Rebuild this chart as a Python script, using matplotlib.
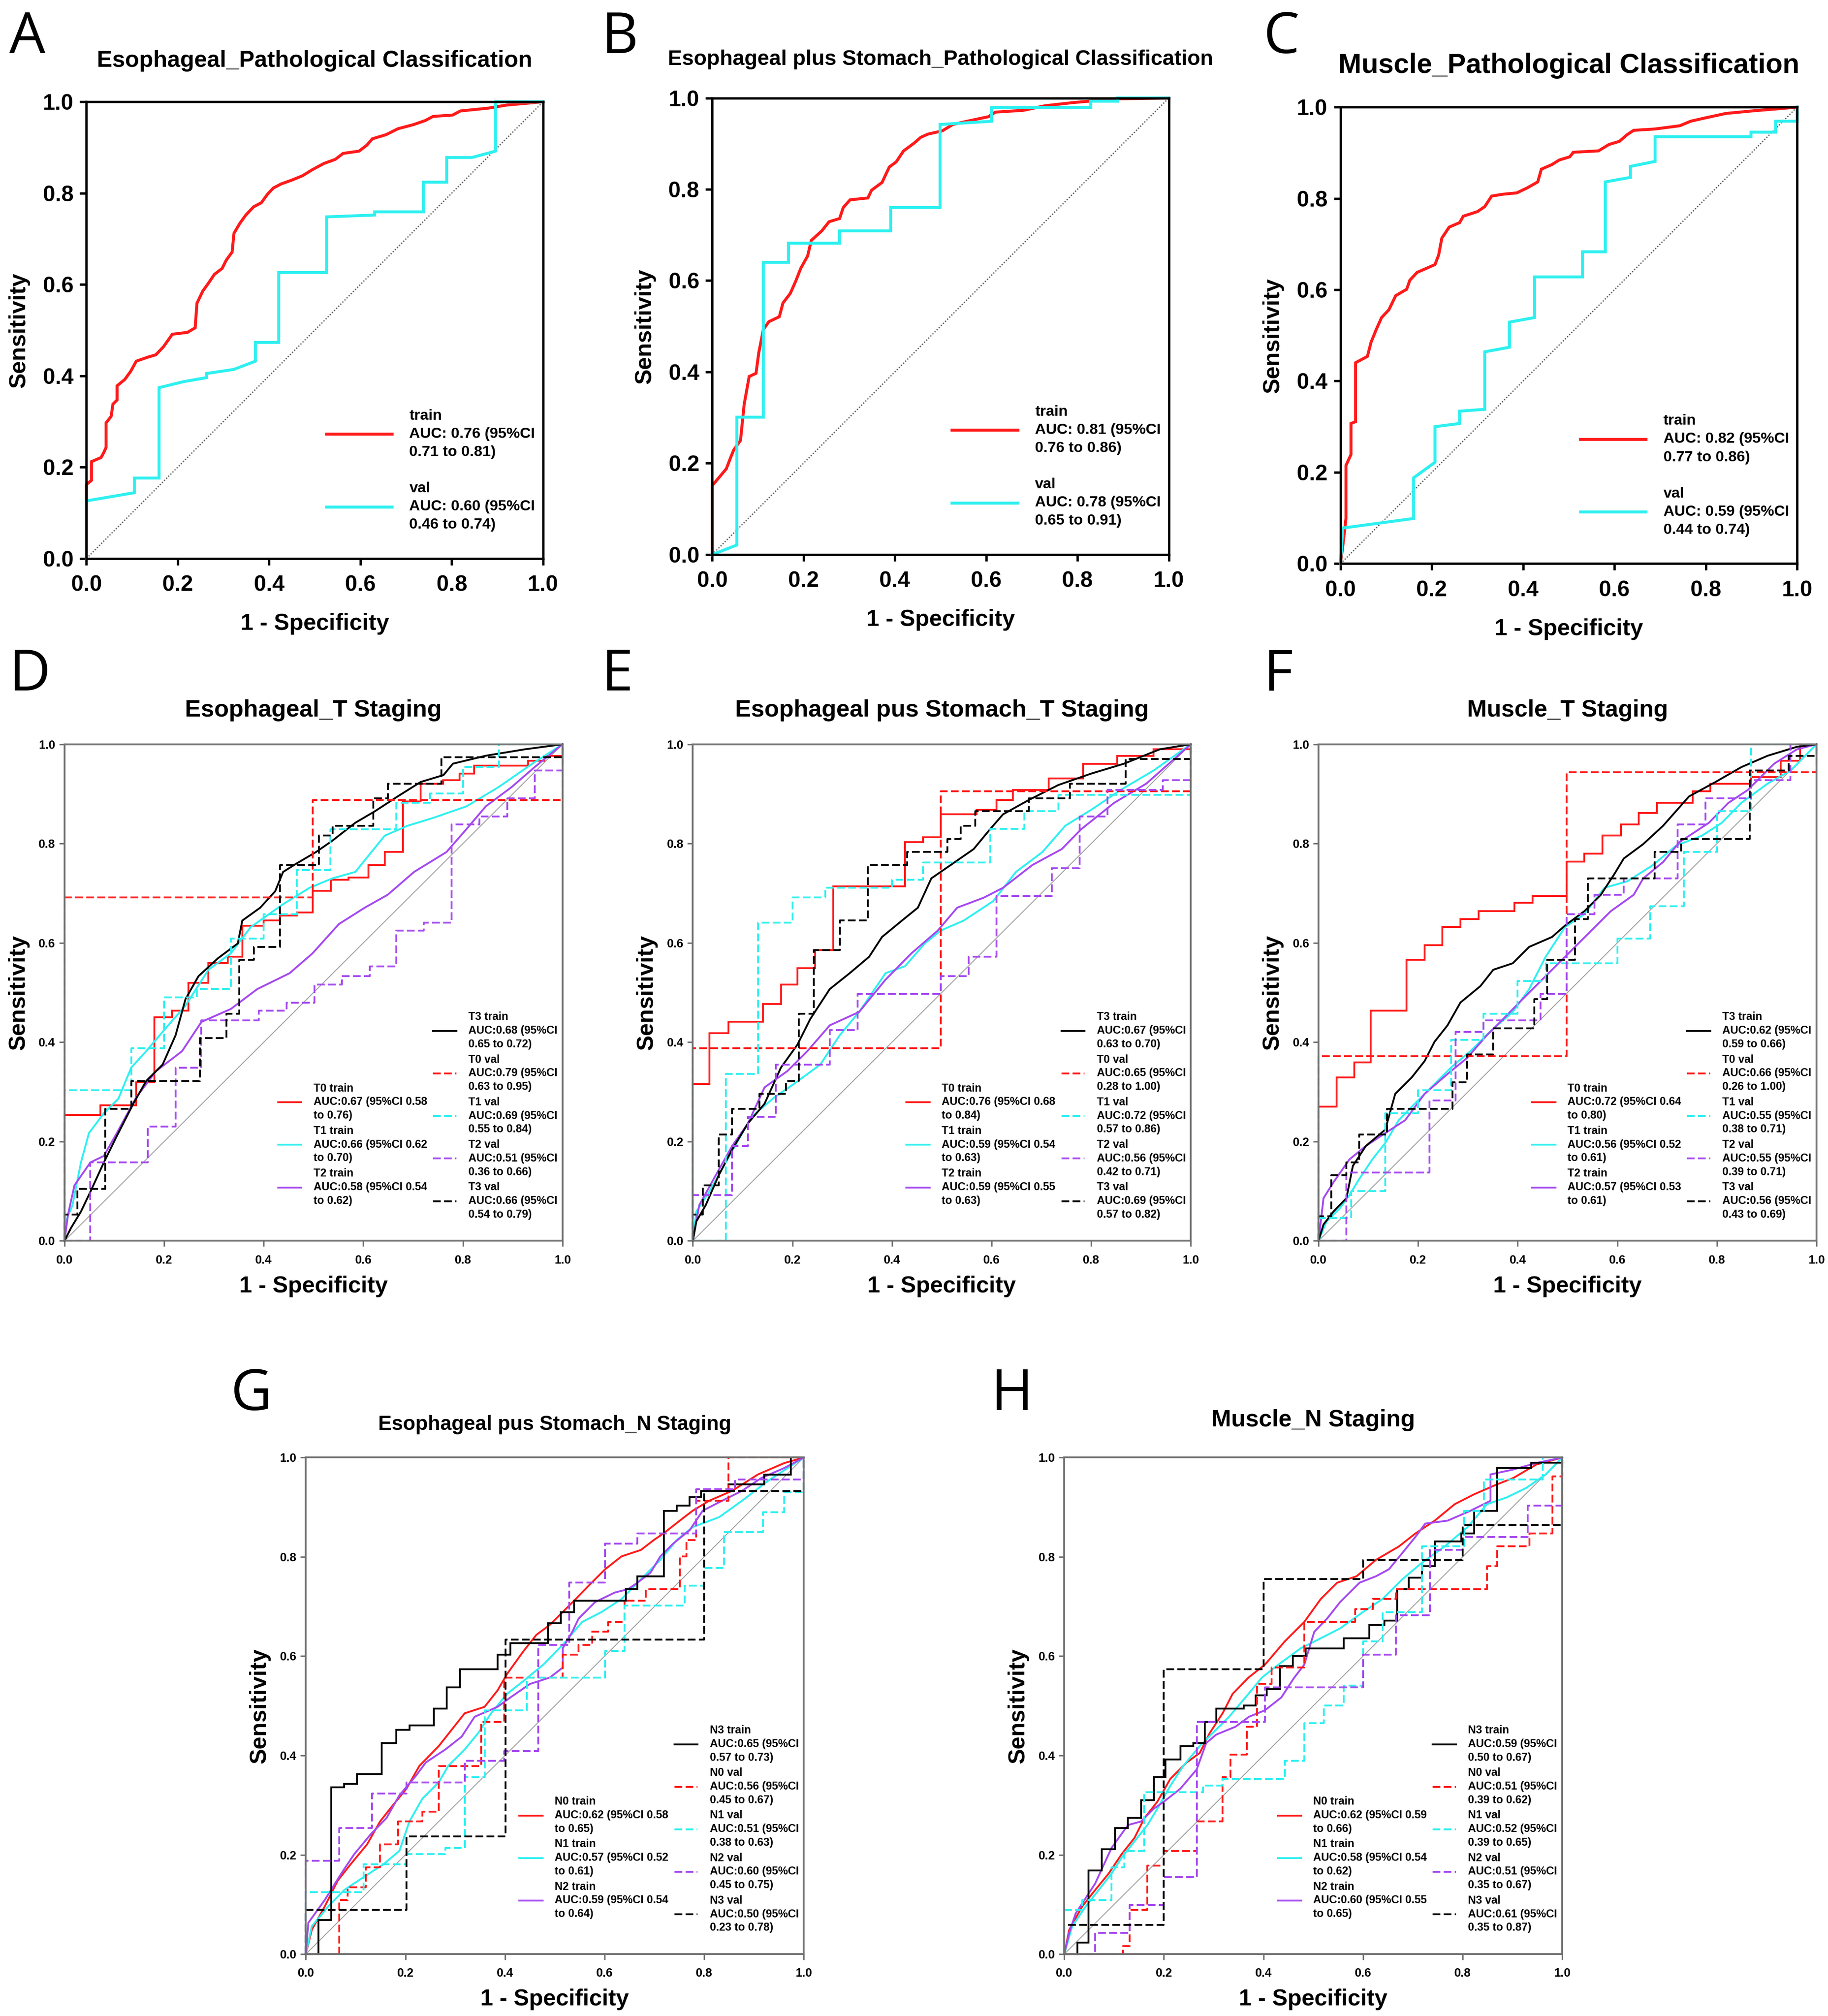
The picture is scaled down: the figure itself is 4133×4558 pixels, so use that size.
import matplotlib
matplotlib.use("Agg")
from matplotlib import pyplot as plt
from matplotlib.ticker import FormatStrFormatter, MultipleLocator
import numpy as np

plt.rcParams['font.family'] = ['Liberation Sans', 'DejaVu Sans']
plt.rcParams['font.weight'] = 'bold'

RED = '#FF1A1A'
CYAN = '#2EF0F0'
PURPLE = '#A548F0'
BLACK = '#000000'

#--------------------------------------------------------------------------------------------------
# ROC points (1 - specificity, sensitivity)
A_TRAIN = [(0, 0), (0, 0.162), (0.011, 0.171), (0.011, 0.212), (0.032, 0.221), (0.038, 0.232), (0.043, 0.243),
           (0.043, 0.297), (0.054, 0.311), (0.058, 0.338), (0.067, 0.347), (0.067, 0.378), (0.084, 0.392),
           (0.097, 0.41), (0.109, 0.432), (0.135, 0.441), (0.152, 0.446), (0.169, 0.464), (0.188, 0.491),
           (0.221, 0.495), (0.238, 0.505), (0.242, 0.559), (0.255, 0.586), (0.268, 0.604), (0.28, 0.622),
           (0.297, 0.635), (0.306, 0.653), (0.319, 0.671), (0.323, 0.712), (0.336, 0.734), (0.349, 0.752),
           (0.366, 0.77), (0.383, 0.779), (0.396, 0.797), (0.409, 0.811), (0.426, 0.82), (0.451, 0.829),
           (0.473, 0.838), (0.494, 0.851), (0.52, 0.865), (0.545, 0.874), (0.562, 0.887), (0.597, 0.892),
           (0.614, 0.905), (0.626, 0.919), (0.656, 0.928), (0.682, 0.941), (0.716, 0.95), (0.742, 0.959),
           (0.759, 0.968), (0.802, 0.971), (0.819, 0.98), (0.879, 0.986), (0.921, 0.993), (1, 1)]
A_VAL = [(0, 0), (0, 0.126), (0.105, 0.144), (0.105, 0.176), (0.159, 0.176), (0.159, 0.374), (0.212, 0.387),
         (0.263, 0.396), (0.263, 0.405), (0.323, 0.414), (0.37, 0.432), (0.37, 0.473), (0.421, 0.473),
         (0.421, 0.626), (0.526, 0.626), (0.526, 0.748), (0.631, 0.752), (0.631, 0.759), (0.738, 0.759),
         (0.738, 0.824), (0.789, 0.824), (0.789, 0.878), (0.844, 0.878), (0.896, 0.892), (0.896, 1.0), (1, 1)]

B_TRAIN = [(0, 0), (0, 0.151), (0.031, 0.188), (0.039, 0.209), (0.047, 0.229), (0.062, 0.25), (0.07, 0.329),
           (0.081, 0.39), (0.096, 0.397), (0.102, 0.442), (0.112, 0.493), (0.124, 0.51), (0.147, 0.521),
           (0.155, 0.551), (0.171, 0.572), (0.183, 0.599), (0.194, 0.627), (0.209, 0.654), (0.217, 0.688),
           (0.24, 0.709), (0.256, 0.729), (0.279, 0.736), (0.287, 0.76), (0.302, 0.777), (0.341, 0.781),
           (0.349, 0.798), (0.372, 0.815), (0.388, 0.849), (0.403, 0.86), (0.419, 0.884), (0.442, 0.901),
           (0.457, 0.914), (0.473, 0.921), (0.504, 0.928), (0.527, 0.942), (0.558, 0.949), (0.605, 0.959),
           (0.62, 0.969), (0.682, 0.973), (0.729, 0.983), (0.791, 0.99), (0.884, 0.998), (1, 1)]
B_VAL = [(0, 0), (0.054, 0.021), (0.054, 0.301), (0.112, 0.301), (0.112, 0.64), (0.167, 0.64), (0.167, 0.682),
         (0.279, 0.682), (0.279, 0.709), (0.391, 0.709), (0.391, 0.76), (0.499, 0.76), (0.499, 0.942),
         (0.612, 0.949), (0.612, 0.979), (0.829, 0.979), (0.829, 0.993), (0.888, 0.993), (0.888, 1), (1, 1)]

C_TRAIN = [(0, 0), (0.005, 0.038), (0.012, 0.099), (0.012, 0.215), (0.023, 0.239), (0.023, 0.307), (0.033, 0.311),
           (0.033, 0.44), (0.059, 0.454), (0.067, 0.485), (0.078, 0.512), (0.09, 0.539), (0.106, 0.556),
           (0.121, 0.587), (0.145, 0.601), (0.152, 0.621), (0.168, 0.638), (0.191, 0.648), (0.207, 0.655),
           (0.215, 0.676), (0.222, 0.713), (0.238, 0.737), (0.261, 0.747), (0.269, 0.761), (0.3, 0.771),
           (0.316, 0.782), (0.331, 0.805), (0.355, 0.809), (0.386, 0.812), (0.409, 0.823), (0.432, 0.836),
           (0.44, 0.864), (0.463, 0.874), (0.479, 0.884), (0.502, 0.891), (0.51, 0.901), (0.565, 0.904),
           (0.588, 0.918), (0.611, 0.925), (0.627, 0.939), (0.642, 0.949), (0.689, 0.952), (0.743, 0.959),
           (0.767, 0.969), (0.798, 0.976), (0.844, 0.986), (0.907, 0.992), (0.969, 0.997), (1, 1)]
C_VAL = [(0, 0), (0.005, 0.078), (0.16, 0.099), (0.16, 0.188), (0.207, 0.222), (0.207, 0.3), (0.261, 0.307),
         (0.261, 0.334), (0.316, 0.338), (0.316, 0.464), (0.37, 0.474), (0.37, 0.529), (0.425, 0.539),
         (0.425, 0.628), (0.53, 0.628), (0.53, 0.683), (0.58, 0.683), (0.58, 0.836), (0.635, 0.846),
         (0.635, 0.87), (0.689, 0.881), (0.689, 0.935), (0.899, 0.935), (0.899, 0.945), (0.953, 0.945),
         (0.953, 0.969), (1, 0.969), (1, 1)]

# panel D (Esophageal_T)
D_T0_TRAIN = [(0, 0), (0, 0.253), (0.072, 0.26), (0.072, 0.273), (0.144, 0.286), (0.144, 0.319), (0.18, 0.319),
              (0.18, 0.45), (0.216, 0.464), (0.249, 0.464), (0.249, 0.52), (0.289, 0.52), (0.289, 0.56),
              (0.328, 0.572), (0.357, 0.572), (0.357, 0.635), (0.4, 0.645), (0.433, 0.655), (0.466, 0.661),
              (0.498, 0.668), (0.498, 0.705), (0.535, 0.714), (0.535, 0.727), (0.57, 0.732), (0.61, 0.737),
              (0.61, 0.757), (0.643, 0.757), (0.643, 0.783), (0.68, 0.786), (0.68, 0.885), (0.715, 0.885),
              (0.715, 0.921), (0.76, 0.928), (0.793, 0.941), (0.823, 0.957), (0.931, 0.967), (0.964, 0.977),
              (1, 0.993), (1, 1)]
D_T1_TRAIN = [(0, 0), (0, 0.033), (0.016, 0.072), (0.033, 0.158), (0.049, 0.217), (0.079, 0.257), (0.108, 0.286),
              (0.134, 0.349), (0.164, 0.382), (0.203, 0.428), (0.243, 0.474), (0.289, 0.546), (0.334, 0.579),
              (0.374, 0.632), (0.439, 0.678), (0.492, 0.711), (0.538, 0.73), (0.584, 0.743), (0.643, 0.816),
              (0.689, 0.836), (0.741, 0.852), (0.807, 0.875), (0.872, 0.914), (0.938, 0.96), (1, 1)]
D_T2_TRAIN = [(0, 0), (0.007, 0.053), (0.02, 0.112), (0.052, 0.158), (0.079, 0.171), (0.105, 0.217), (0.144, 0.289),
              (0.184, 0.342), (0.236, 0.382), (0.275, 0.441), (0.334, 0.467), (0.387, 0.507), (0.452, 0.539),
              (0.498, 0.579), (0.551, 0.638), (0.603, 0.671), (0.649, 0.697), (0.702, 0.743), (0.767, 0.783),
              (0.807, 0.829), (0.846, 0.875), (0.898, 0.914), (0.944, 0.954), (1, 1)]
D_T3_TRAIN = [(0, 0), (0.013, 0.026), (0.033, 0.059), (0.052, 0.099), (0.079, 0.158), (0.105, 0.211), (0.138, 0.276),
              (0.164, 0.322), (0.197, 0.355), (0.223, 0.414), (0.243, 0.487), (0.269, 0.533), (0.308, 0.569),
              (0.348, 0.599), (0.357, 0.645), (0.393, 0.671), (0.423, 0.704), (0.439, 0.743), (0.466, 0.76),
              (0.505, 0.783), (0.538, 0.806), (0.584, 0.842), (0.623, 0.865), (0.669, 0.895), (0.715, 0.924),
              (0.761, 0.938), (0.78, 0.961), (0.846, 0.977), (0.925, 0.99), (1, 1)]
D_T0_VAL = [(0, 0), (0, 0.692), (0.498, 0.888), (1, 1)]
D_T1_VAL = [(0, 0), (0, 0.303), (0.134, 0.388), (0.2, 0.49), (0.266, 0.507), (0.334, 0.609), (0.4, 0.658),
            (0.466, 0.747), (0.534, 0.829), (0.666, 0.882), (0.734, 0.901), (0.8, 0.954), (0.872, 1.0), (1, 1)]
D_T2_VAL = [(0, 0), (0.052, 0.158), (0.167, 0.23), (0.223, 0.349), (0.275, 0.444), (0.39, 0.464), (0.446, 0.48),
            (0.502, 0.516), (0.557, 0.533), (0.613, 0.553), (0.666, 0.625), (0.721, 0.641), (0.777, 0.839),
            (0.833, 0.855), (0.889, 0.891), (0.944, 0.947), (1, 1)]
D_T3_VAL = [(0, 0), (0, 0.053), (0.026, 0.105), (0.082, 0.266), (0.134, 0.322), (0.272, 0.408), (0.325, 0.457),
            (0.351, 0.566), (0.38, 0.592), (0.433, 0.757), (0.511, 0.816), (0.538, 0.836), (0.62, 0.891),
            (0.649, 0.921), (0.757, 0.974), (1, 1)]

# panel E (Esophageal pus Stomach_T)
E_T0_TRAIN = [(0, 0), (0, 0.316), (0.033, 0.418), (0.072, 0.441), (0.141, 0.477), (0.177, 0.516), (0.21, 0.549),
              (0.246, 0.586), (0.282, 0.714), (0.426, 0.803), (0.462, 0.813), (0.498, 0.859), (0.57, 0.868),
              (0.61, 0.888), (0.643, 0.908), (0.715, 0.931), (0.784, 0.961), (0.852, 0.977), (0.925, 0.99), (1, 1)]
E_T1_TRAIN = [(0, 0), (0.007, 0.059), (0.033, 0.099), (0.059, 0.145), (0.092, 0.204), (0.118, 0.25), (0.164, 0.289),
              (0.203, 0.316), (0.256, 0.355), (0.295, 0.414), (0.334, 0.461), (0.387, 0.539), (0.426, 0.553),
              (0.466, 0.599), (0.498, 0.625), (0.544, 0.645), (0.603, 0.684), (0.649, 0.743), (0.702, 0.783),
              (0.748, 0.836), (0.8, 0.868), (0.859, 0.908), (0.925, 0.947), (1, 1)]
E_T2_TRAIN = [(0, 0), (0.013, 0.072), (0.046, 0.132), (0.079, 0.191), (0.111, 0.237), (0.144, 0.309), (0.19, 0.342),
              (0.23, 0.382), (0.275, 0.434), (0.334, 0.461), (0.387, 0.526), (0.439, 0.579), (0.492, 0.625),
              (0.531, 0.671), (0.584, 0.691), (0.623, 0.711), (0.682, 0.757), (0.741, 0.789), (0.78, 0.829),
              (0.846, 0.882), (0.911, 0.921), (1, 1)]
E_T3_TRAIN = [(0, 0), (0.007, 0.039), (0.026, 0.072), (0.052, 0.132), (0.079, 0.184), (0.111, 0.237), (0.144, 0.276),
              (0.177, 0.349), (0.21, 0.395), (0.236, 0.447), (0.275, 0.507), (0.315, 0.539), (0.354, 0.572),
              (0.38, 0.612), (0.42, 0.645), (0.452, 0.671), (0.479, 0.73), (0.518, 0.757), (0.564, 0.789),
              (0.597, 0.829), (0.623, 0.859), (0.675, 0.888), (0.734, 0.918), (0.8, 0.941), (0.866, 0.961),
              (0.938, 0.99), (1, 1)]
E_T0_VAL = [(0, 0), (0, 0.388), (0.498, 0.905), (1, 0.93), (1, 1)]
E_T1_VAL = [(0, 0), (0.066, 0.336), (0.131, 0.641), (0.2, 0.692), (0.266, 0.711), (0.4, 0.727), (0.462, 0.762),
            (0.597, 0.83), (0.666, 0.865), (0.734, 0.898), (1, 0.947), (1, 1)]
E_T2_VAL = [(0, 0), (0, 0.092), (0.079, 0.191), (0.111, 0.25), (0.167, 0.355), (0.275, 0.424), (0.331, 0.497),
            (0.498, 0.533), (0.554, 0.572), (0.61, 0.694), (0.721, 0.75), (0.777, 0.855), (0.833, 0.908),
            (0.944, 0.928), (1, 1)]
E_T3_VAL = [(0, 0), (0, 0.053), (0.02, 0.112), (0.052, 0.214), (0.079, 0.266), (0.134, 0.296), (0.187, 0.322),
            (0.213, 0.457), (0.243, 0.586), (0.295, 0.645), (0.351, 0.757), (0.43, 0.783), (0.511, 0.809),
            (0.538, 0.836), (0.567, 0.865), (0.675, 0.891), (0.757, 0.921), (0.869, 0.97), (1, 1)]

# panel F (Muscle_T)
F_T0_TRAIN = [(0, 0), (0, 0.27), (0.036, 0.329), (0.072, 0.359), (0.105, 0.464), (0.177, 0.566), (0.213, 0.595),
              (0.249, 0.632), (0.285, 0.648), (0.321, 0.664), (0.393, 0.681), (0.43, 0.694), (0.498, 0.764),
              (0.534, 0.78), (0.57, 0.816), (0.607, 0.839), (0.643, 0.862), (0.679, 0.882), (0.751, 0.905),
              (0.787, 0.921), (0.869, 0.934), (0.928, 0.967), (0.967, 1.0), (1, 1)]
F_T1_TRAIN = [(0, 0), (0.016, 0.039), (0.043, 0.066), (0.062, 0.092), (0.082, 0.125), (0.108, 0.164), (0.134, 0.197),
              (0.161, 0.243), (0.193, 0.276), (0.226, 0.309), (0.266, 0.349), (0.305, 0.382), (0.344, 0.421),
              (0.39, 0.461), (0.423, 0.507), (0.456, 0.572), (0.495, 0.632), (0.534, 0.658), (0.574, 0.711),
              (0.62, 0.724), (0.672, 0.757), (0.718, 0.796), (0.77, 0.816), (0.81, 0.842), (0.849, 0.882),
              (0.902, 0.921), (0.948, 0.947), (1, 1)]
F_T2_TRAIN = [(0, 0), (0.01, 0.086), (0.03, 0.118), (0.062, 0.164), (0.095, 0.191), (0.134, 0.217), (0.174, 0.243),
              (0.213, 0.296), (0.259, 0.336), (0.298, 0.368), (0.338, 0.414), (0.371, 0.447), (0.41, 0.487),
              (0.456, 0.533), (0.495, 0.572), (0.541, 0.618), (0.587, 0.664), (0.633, 0.697), (0.652, 0.73),
              (0.692, 0.763), (0.725, 0.803), (0.784, 0.842), (0.823, 0.882), (0.862, 0.908), (0.915, 0.961),
              (0.961, 0.99), (1, 1)]
F_T3_TRAIN = [(0, 0), (0.01, 0.033), (0.03, 0.059), (0.056, 0.086), (0.069, 0.151), (0.095, 0.191), (0.134, 0.224),
              (0.154, 0.296), (0.187, 0.329), (0.213, 0.362), (0.233, 0.401), (0.259, 0.434), (0.285, 0.48),
              (0.325, 0.513), (0.351, 0.546), (0.39, 0.559), (0.423, 0.592), (0.469, 0.612), (0.495, 0.635),
              (0.534, 0.664), (0.567, 0.697), (0.593, 0.737), (0.613, 0.77), (0.652, 0.799), (0.692, 0.836),
              (0.744, 0.895), (0.797, 0.924), (0.849, 0.954), (0.902, 0.977), (0.961, 0.995), (1, 1)]
F_T0_VAL = [(0, 0), (0, 0.372), (0.498, 0.944), (1, 1)]
F_T1_VAL = [(0, 0), (0, 0.046), (0.066, 0.1), (0.134, 0.257), (0.2, 0.303), (0.266, 0.405), (0.331, 0.457),
            (0.4, 0.523), (0.456, 0.559), (0.6, 0.609), (0.666, 0.674), (0.734, 0.783), (0.8, 0.865),
            (0.869, 1.0), (1, 1)]
F_T2_VAL = [(0, 0), (0.056, 0.138), (0.223, 0.283), (0.275, 0.421), (0.331, 0.444), (0.446, 0.497), (0.498, 0.658),
            (0.554, 0.697), (0.613, 0.73), (0.721, 0.839), (0.777, 0.891), (0.869, 0.928), (0.948, 1.0), (1, 1)]
F_T3_VAL = [(0, 0), (0, 0.049), (0.026, 0.132), (0.056, 0.158), (0.082, 0.214), (0.138, 0.266), (0.269, 0.319),
            (0.298, 0.375), (0.351, 0.428), (0.433, 0.487), (0.459, 0.566), (0.515, 0.648), (0.541, 0.73),
            (0.675, 0.783), (0.728, 0.809), (0.866, 0.947), (0.944, 0.977), (1, 1)]

# panel G (Esophageal pus Stomach_N)
G_N0_TRAIN = [(0, 0), (0.012, 0.049), (0.038, 0.096), (0.064, 0.148), (0.09, 0.181), (0.123, 0.221), (0.149, 0.267),
              (0.175, 0.3), (0.202, 0.333), (0.228, 0.379), (0.267, 0.419), (0.293, 0.452), (0.319, 0.485),
              (0.359, 0.498), (0.385, 0.531), (0.404, 0.564), (0.437, 0.61), (0.463, 0.643), (0.49, 0.663),
              (0.516, 0.689), (0.542, 0.715), (0.568, 0.742), (0.601, 0.775), (0.634, 0.801), (0.673, 0.814),
              (0.699, 0.834), (0.718, 0.847), (0.751, 0.873), (0.777, 0.893), (0.81, 0.913), (0.856, 0.933),
              (0.908, 0.966), (0.961, 0.989), (1, 1)]
G_N1_TRAIN = [(0, 0), (0.012, 0.056), (0.045, 0.096), (0.077, 0.129), (0.116, 0.155), (0.156, 0.181), (0.188, 0.208),
              (0.208, 0.267), (0.234, 0.313), (0.267, 0.346), (0.286, 0.379), (0.319, 0.412), (0.346, 0.445),
              (0.372, 0.485), (0.404, 0.524), (0.437, 0.55), (0.477, 0.583), (0.516, 0.623), (0.555, 0.669),
              (0.594, 0.689), (0.634, 0.715), (0.673, 0.755), (0.712, 0.794), (0.745, 0.834), (0.777, 0.86),
              (0.83, 0.88), (0.876, 0.913), (0.928, 0.953), (1, 1)]
G_N2_TRAIN = [(0, 0), (0.005, 0.063), (0.038, 0.109), (0.071, 0.162), (0.097, 0.201), (0.13, 0.241), (0.162, 0.274),
              (0.188, 0.32), (0.221, 0.359), (0.241, 0.386), (0.28, 0.412), (0.313, 0.438), (0.339, 0.478),
              (0.385, 0.498), (0.411, 0.517), (0.45, 0.544), (0.49, 0.557), (0.516, 0.577), (0.516, 0.616),
              (0.535, 0.649), (0.548, 0.676), (0.581, 0.709), (0.62, 0.728), (0.647, 0.735), (0.666, 0.748),
              (0.692, 0.768), (0.712, 0.801), (0.738, 0.827), (0.771, 0.854), (0.797, 0.893), (0.83, 0.91),
              (0.876, 0.933), (0.915, 0.959), (0.961, 0.979), (1, 1)]
G_N3_TRAIN = [(0, 0), (0.025, 0.069), (0.051, 0.336), (0.077, 0.343), (0.103, 0.363), (0.152, 0.425), (0.182, 0.452),
              (0.208, 0.461), (0.257, 0.494), (0.283, 0.537), (0.31, 0.574), (0.385, 0.603), (0.411, 0.626),
              (0.486, 0.666), (0.512, 0.689), (0.539, 0.712), (0.643, 0.735), (0.666, 0.761), (0.719, 0.893),
              (0.745, 0.903), (0.771, 0.92), (0.794, 0.933), (0.849, 0.946), (0.921, 0.966), (0.974, 1.0), (1, 1)]
G_N0_VAL = [(0, 0), (0.067, 0.109), (0.084, 0.135), (0.12, 0.175), (0.149, 0.221), (0.185, 0.267), (0.234, 0.287),
            (0.267, 0.379), (0.352, 0.468), (0.398, 0.557), (0.516, 0.603), (0.548, 0.623), (0.575, 0.649),
            (0.607, 0.669), (0.64, 0.712), (0.683, 0.735), (0.751, 0.801), (0.764, 0.834), (0.784, 0.913),
            (0.849, 1.0), (1, 1)]
G_N1_VAL = [(0, 0), (0, 0.125), (0.116, 0.181), (0.202, 0.201), (0.28, 0.214), (0.319, 0.356), (0.359, 0.491),
            (0.444, 0.557), (0.601, 0.61), (0.64, 0.702), (0.761, 0.742), (0.8, 0.778), (0.84, 0.85),
            (0.918, 0.89), (0.961, 0.93), (1, 1)]
G_N2_VAL = [(0, 0), (0, 0.188), (0.067, 0.254), (0.133, 0.323), (0.202, 0.346), (0.319, 0.389), (0.398, 0.409),
            (0.467, 0.623), (0.529, 0.748), (0.601, 0.827), (0.666, 0.847), (0.784, 0.936), (0.862, 0.956), (1, 1)]
G_N3_VAL = [(0, 0), (0, 0.089), (0.202, 0.237), (0.401, 0.633), (0.8, 0.933), (1, 1)]

# panel H (Muscle_N)
H_N0_TRAIN = [(0, 0), (0.01, 0.049), (0.036, 0.096), (0.062, 0.129), (0.089, 0.162), (0.115, 0.201), (0.141, 0.234),
              (0.161, 0.274), (0.187, 0.307), (0.213, 0.353), (0.246, 0.386), (0.272, 0.405), (0.292, 0.445),
              (0.318, 0.485), (0.338, 0.524), (0.37, 0.557), (0.403, 0.583), (0.443, 0.63), (0.482, 0.669),
              (0.515, 0.715), (0.548, 0.748), (0.587, 0.761), (0.626, 0.794), (0.672, 0.821), (0.705, 0.847),
              (0.744, 0.873), (0.784, 0.906), (0.823, 0.926), (0.869, 0.946), (0.902, 0.959), (0.948, 0.986), (1, 1)]
H_N1_TRAIN = [(0, 0), (0.016, 0.056), (0.043, 0.096), (0.069, 0.129), (0.095, 0.162), (0.115, 0.194), (0.141, 0.227),
              (0.167, 0.26), (0.187, 0.293), (0.213, 0.339), (0.239, 0.379), (0.272, 0.419), (0.298, 0.445),
              (0.331, 0.478), (0.364, 0.517), (0.397, 0.557), (0.43, 0.583), (0.475, 0.616), (0.515, 0.636),
              (0.554, 0.656), (0.6, 0.689), (0.639, 0.715), (0.679, 0.755), (0.718, 0.788), (0.764, 0.821),
              (0.81, 0.86), (0.849, 0.906), (0.889, 0.92), (0.928, 0.939), (0.967, 0.966), (1, 1)]
H_N2_TRAIN = [(0, 0), (0.01, 0.043), (0.023, 0.082), (0.062, 0.142), (0.095, 0.214), (0.128, 0.26), (0.154, 0.267),
              (0.18, 0.293), (0.2, 0.307), (0.233, 0.333), (0.266, 0.372), (0.285, 0.425), (0.305, 0.442),
              (0.344, 0.458), (0.371, 0.478), (0.403, 0.491), (0.436, 0.517), (0.462, 0.557), (0.482, 0.583),
              (0.502, 0.649), (0.528, 0.676), (0.554, 0.709), (0.593, 0.748), (0.626, 0.761), (0.652, 0.775),
              (0.679, 0.808), (0.705, 0.84), (0.725, 0.867), (0.77, 0.873), (0.816, 0.893), (0.856, 0.913),
              (0.856, 0.966), (0.902, 0.976), (0.948, 0.989), (1, 1)]
H_N3_TRAIN = [(0, 0), (0.026, 0.023), (0.049, 0.168), (0.075, 0.211), (0.102, 0.254), (0.128, 0.274), (0.154, 0.31),
              (0.18, 0.356), (0.203, 0.392), (0.233, 0.419), (0.259, 0.425), (0.282, 0.468), (0.305, 0.494),
              (0.36, 0.501), (0.384, 0.521), (0.407, 0.534), (0.433, 0.58), (0.459, 0.6), (0.485, 0.616),
              (0.561, 0.636), (0.613, 0.663), (0.643, 0.672), (0.669, 0.735), (0.692, 0.758), (0.718, 0.781),
              (0.744, 0.831), (0.797, 0.847), (0.823, 0.893), (0.869, 0.979), (0.938, 0.99), (1, 1)]
H_N0_VAL = [(0, 0), (0.118, 0.016), (0.131, 0.089), (0.167, 0.178), (0.2, 0.208), (0.266, 0.267), (0.318, 0.356),
            (0.334, 0.402), (0.367, 0.458), (0.387, 0.544), (0.416, 0.577), (0.482, 0.669), (0.584, 0.695),
            (0.62, 0.715), (0.666, 0.735), (0.849, 0.781), (0.869, 0.821), (0.934, 0.847), (0.98, 0.962), (1, 1)]
H_N1_VAL = [(0, 0), (0, 0.089), (0.036, 0.109), (0.095, 0.175), (0.121, 0.208), (0.161, 0.326), (0.279, 0.339),
            (0.318, 0.353), (0.443, 0.389), (0.482, 0.465), (0.521, 0.501), (0.561, 0.541), (0.6, 0.63),
            (0.639, 0.689), (0.718, 0.821), (0.803, 0.893), (0.843, 0.956), (0.961, 1.0), (1, 1)]
H_N2_VAL = [(0, 0), (0.062, 0.043), (0.131, 0.099), (0.2, 0.155), (0.266, 0.468), (0.403, 0.537), (0.6, 0.603),
            (0.666, 0.682), (0.734, 0.814), (0.8, 0.84), (0.931, 0.903), (1, 1)]
H_N3_VAL = [(0, 0), (0, 0.059), (0.2, 0.574), (0.4, 0.755), (0.6, 0.794), (0.8, 0.864), (1, 1)]

# legend texts
A_LABELS = ["train\nAUC: 0.76 (95%CI\n0.71 to 0.81)", "val\nAUC: 0.60 (95%CI\n0.46 to 0.74)"]
B_LABELS = ["train\nAUC: 0.81 (95%CI\n0.76 to 0.86)", "val\nAUC: 0.78 (95%CI\n0.65 to 0.91)"]
C_LABELS = ["train\nAUC: 0.82 (95%CI\n0.77 to 0.86)", "val\nAUC: 0.59 (95%CI\n0.44 to 0.74)"]

D_AUC_TRAIN = ["0.67 (95%CI 0.58\nto 0.76)", "0.66 (95%CI 0.62\nto 0.70)", "0.58 (95%CI 0.54\nto 0.62)", "0.68 (95%CI\n0.65 to 0.72)"]
D_AUC_VAL = ["0.79 (95%CI\n0.63 to 0.95)", "0.69 (95%CI\n0.55 to 0.84)", "0.51 (95%CI\n0.36 to 0.66)", "0.66 (95%CI\n0.54 to 0.79)"]
E_AUC_TRAIN = ["0.76 (95%CI 0.68\nto 0.84)", "0.59 (95%CI 0.54\nto 0.63)", "0.59 (95%CI 0.55\nto 0.63)", "0.67 (95%CI\n0.63 to 0.70)"]
E_AUC_VAL = ["0.65 (95%CI\n0.28 to 1.00)", "0.72 (95%CI\n0.57 to 0.86)", "0.56 (95%CI\n0.42 to 0.71)", "0.69 (95%CI\n0.57 to 0.82)"]
F_AUC_TRAIN = ["0.72 (95%CI 0.64\nto 0.80)", "0.56 (95%CI 0.52\nto 0.61)", "0.57 (95%CI 0.53\nto 0.61)", "0.62 (95%CI\n0.59 to 0.66)"]
F_AUC_VAL = ["0.66 (95%CI\n0.26 to 1.00)", "0.55 (95%CI\n0.38 to 0.71)", "0.55 (95%CI\n0.39 to 0.71)", "0.56 (95%CI\n0.43 to 0.69)"]
G_AUC_TRAIN = ["0.62 (95%CI 0.58\nto 0.65)", "0.57 (95%CI 0.52\nto 0.61)", "0.59 (95%CI 0.54\nto 0.64)", "0.65 (95%CI\n0.57 to 0.73)"]
G_AUC_VAL = ["0.56 (95%CI\n0.45 to 0.67)", "0.51 (95%CI\n0.38 to 0.63)", "0.60 (95%CI\n0.45 to 0.75)", "0.50 (95%CI\n0.23 to 0.78)"]
H_AUC_TRAIN = ["0.62 (95%CI 0.59\nto 0.66)", "0.58 (95%CI 0.54\nto 0.62)", "0.60 (95%CI 0.55\nto 0.65)", "0.59 (95%CI\n0.50 to 0.67)"]
H_AUC_VAL = ["0.51 (95%CI\n0.39 to 0.62)", "0.52 (95%CI\n0.39 to 0.65)", "0.51 (95%CI\n0.35 to 0.67)", "0.61 (95%CI\n0.35 to 0.87)"]

CLASS_COLORS = [RED, CYAN, PURPLE, BLACK]
VAL_DASH = (0, (4.2, 1.8))

fig = plt.figure(figsize=(4133 / 300, 4558 / 300), dpi=300)


def draw_curve(ax, pts, steps=False, **kw):
    xy = np.array(pts, dtype=float)
    return ax.plot(xy[:, 0], xy[:, 1], drawstyle='steps-post' if steps else 'default',
                   clip_on=False, solid_joinstyle='miter', **kw)[0]


def format_axes(ax):
    ax.set_xlim(0, 1)
    ax.set_ylim(0, 1)
    ax.xaxis.set_major_locator(MultipleLocator(0.2))
    ax.yaxis.set_major_locator(MultipleLocator(0.2))
    ax.xaxis.set_major_formatter(FormatStrFormatter('%.1f'))
    ax.yaxis.set_major_formatter(FormatStrFormatter('%.1f'))


#--------------------------------------------------------------------------------------------------
def big_panel(rect, title, tsize, tpad, train, val, labels):
    ax = fig.add_axes(rect)
    ax.plot([0, 1], [0, 1], color='#606060', lw=0.7, ls=(0, (1, 1.3)))
    h1 = draw_curve(ax, train, color=RED, lw=1.6)
    h2 = draw_curve(ax, val, color=CYAN, lw=1.6)
    format_axes(ax)
    for s in ax.spines.values():
        s.set_linewidth(1.3)
        s.set_color('black')
    ax.tick_params(direction='out', length=3.5, width=1.3, labelsize=12)
    ax.tick_params(axis='x', pad=5.5)
    ax.tick_params(axis='y', pad=3.5)
    ax.set_xlabel('1 - Specificity', fontsize=12.5, fontweight='bold', labelpad=9.5)
    ax.set_ylabel('Sensitivity', fontsize=12.5, fontweight='bold', labelpad=7)
    ax.set_title(title, fontsize=tsize, fontweight='bold', pad=tpad)
    leg = ax.legend([h1, h2], labels, loc='center left', bbox_to_anchor=(0.525, 0.193),
                    frameon=False, prop={'weight': 'bold', 'size': 8.2}, borderpad=0, borderaxespad=0,
                    handlelength=4.35, handletextpad=1.15, labelspacing=1.5)
    for t in leg.get_texts():
        t.set_linespacing(1.42)
    return ax


def stage_panel(rect, title, tsize, tpad, trains, vals, prefix, auc_train, auc_val):
    ax = fig.add_axes(rect)
    ax.plot([0, 1], [0, 1], color='#A0A0A0', lw=0.5)
    hs = []
    for i, pts in enumerate(trains):
        hs.append(draw_curve(ax, pts, steps=(i == 0 and prefix == 'T') or (i == 3 and prefix == 'N'),
                             color=CLASS_COLORS[i], lw=1.0))
    for i, pts in enumerate(vals):
        hs.append(draw_curve(ax, pts, steps=True, color=CLASS_COLORS[i], lw=1.0, ls=VAL_DASH))
    format_axes(ax)
    for s in ax.spines.values():
        s.set_linewidth(1.0)
        s.set_color('#707070')
    ax.tick_params(direction='out', length=3, width=0.8, color='#707070', labelsize=6.5)
    ax.tick_params(axis='x', pad=4.5)
    ax.tick_params(axis='y', pad=2)
    ax.set_xlabel('1 - Specificity', fontsize=12.5, fontweight='bold', labelpad=5)
    ax.set_ylabel('Sensitivity', fontsize=12.5, fontweight='bold', labelpad=5)
    ax.set_title(title, fontsize=tsize, fontweight='bold', pad=tpad)

    names = [f"{prefix}{i} train\nAUC:{a}" for i, a in enumerate(auc_train)] + \
            [f"{prefix}{i} val\nAUC:{a}" for i, a in enumerate(auc_val)]
    kw = dict(loc='center left', frameon=False, prop={'weight': 'bold', 'size': 6}, borderpad=0,
              borderaxespad=0, handlelength=2.1, handletextpad=1.1, labelspacing=0.42)
    leg1 = ax.legend(hs[:3], names[:3], bbox_to_anchor=(0.429, 0.194), **kw)
    ax.add_artist(leg1)
    leg2 = ax.legend(hs[3:], names[3:], bbox_to_anchor=(0.74, 0.252), **kw)
    for leg in (leg1, leg2):
        for t in leg.get_texts():
            t.set_linespacing(1.36)
    return ax


big_panel([0.0473, 0.7230, 0.2498, 0.2265], 'Esophageal_Pathological Classification', 12.5, 19,
          A_TRAIN, A_VAL, A_LABELS)
big_panel([0.3896, 0.7249, 0.2498, 0.2265], 'Esophageal plus Stomach_Pathological Classification', 11.5, 18,
          B_TRAIN, B_VAL, B_LABELS)
big_panel([0.7333, 0.7204, 0.2498, 0.2265], 'Muscle_Pathological Classification', 15, 18.5,
          C_TRAIN, C_VAL, C_LABELS)

stage_panel([0.0353, 0.3845, 0.2724, 0.2463], 'Esophageal_T Staging', 13, 15,
            [D_T0_TRAIN, D_T1_TRAIN, D_T2_TRAIN, D_T3_TRAIN], [D_T0_VAL, D_T1_VAL, D_T2_VAL, D_T3_VAL],
            'T', D_AUC_TRAIN, D_AUC_VAL)
stage_panel([0.3790, 0.3845, 0.2724, 0.2463], 'Esophageal pus Stomach_T Staging', 13, 15,
            [E_T0_TRAIN, E_T1_TRAIN, E_T2_TRAIN, E_T3_TRAIN], [E_T0_VAL, E_T1_VAL, E_T2_VAL, E_T3_VAL],
            'T', E_AUC_TRAIN, E_AUC_VAL)
stage_panel([0.7213, 0.3845, 0.2724, 0.2463], 'Muscle_T Staging', 12.8, 15,
            [F_T0_TRAIN, F_T1_TRAIN, F_T2_TRAIN, F_T3_TRAIN], [F_T0_VAL, F_T1_VAL, F_T2_VAL, F_T3_VAL],
            'T', F_AUC_TRAIN, F_AUC_VAL)
stage_panel([0.1673, 0.0307, 0.2724, 0.2463], 'Esophageal pus Stomach_N Staging', 11, 15,
            [G_N0_TRAIN, G_N1_TRAIN, G_N2_TRAIN, G_N3_TRAIN], [G_N0_VAL, G_N1_VAL, G_N2_VAL, G_N3_VAL],
            'N', G_AUC_TRAIN, G_AUC_VAL)
stage_panel([0.5822, 0.0307, 0.2724, 0.2463], 'Muscle_N Staging', 12.8, 17,
            [H_N0_TRAIN, H_N1_TRAIN, H_N2_TRAIN, H_N3_TRAIN], [H_N0_VAL, H_N1_VAL, H_N2_VAL, H_N3_VAL],
            'N', H_AUC_TRAIN, H_AUC_VAL)

# panel letters
for letter, x, y in [('A', 0.005, 0.995), ('B', 0.329, 0.995), ('C', 0.691, 0.995),
                     ('D', 0.005, 0.679), ('E', 0.329, 0.679), ('F', 0.691, 0.679),
                     ('G', 0.126, 0.322), ('H', 0.542, 0.322)]:
    fig.text(x, y, letter, fontsize=31, fontweight='normal', family=['Open Sans', 'DejaVu Sans'],
             va='top', ha='left')

fig.savefig('out.png', dpi=300)
